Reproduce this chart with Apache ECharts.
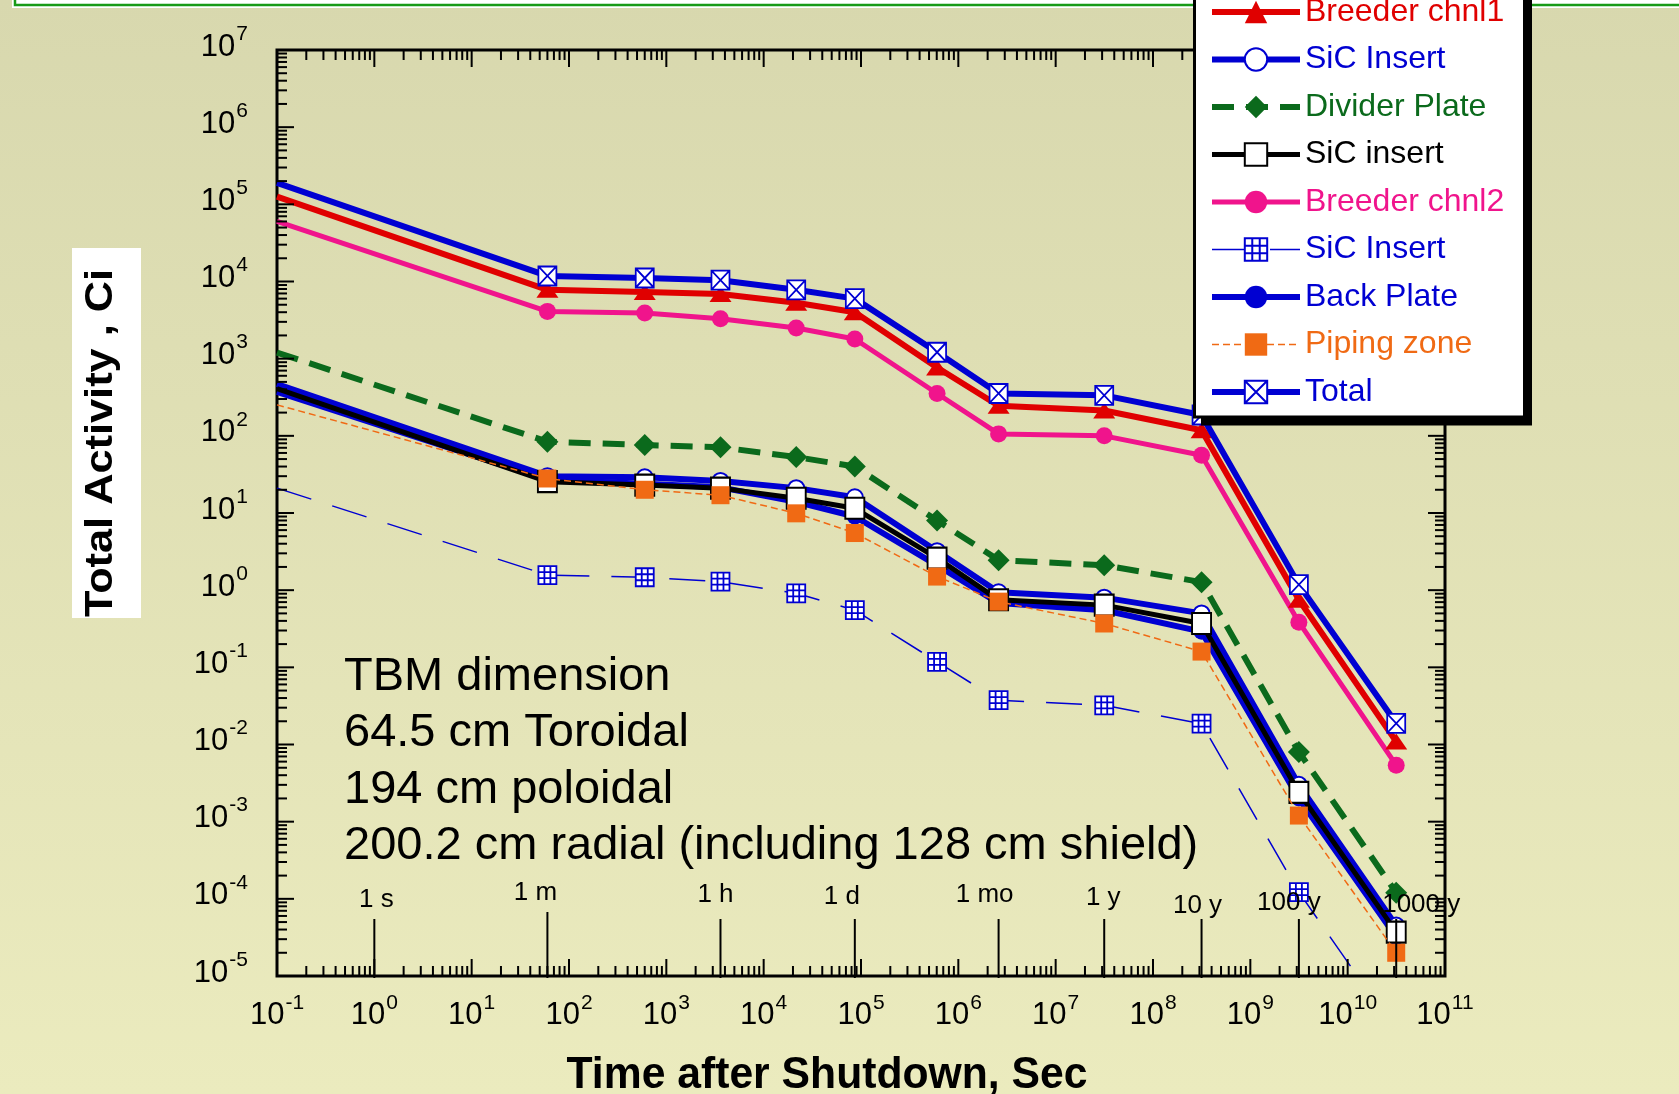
<!DOCTYPE html>
<html>
<head>
<meta charset="utf-8">
<script src="https://cdn.jsdelivr.net/npm/echarts@6/dist/echarts.min.js"></script>
<style>
html,body{margin:0;padding:0;background:#fff;}
#chart{width:1679px;height:1094px;}
</style>
</head>
<body>
<div id="chart"></div>
<script>
// ---------------- data ----------------
const timesSec      = [0.1, 60, 600, 3600, 21600, 86400, 604800, 2592000, 31536000, 315360000, 3153600000, 31536000000];
const breederChnl1  = [1.26e5, 7.8e3, 7.3e3, 6.9e3, 5.3e3, 4.0e3, 770, 245, 213, 118, 0.75, 0.0109];
const sicInsertA    = [470, 30, 29, 26, 21, 16, 3.2, 0.94, 0.80, 0.50, 0.0030, 4.5e-5];
const dividerPlate  = [1.2e3, 84, 76, 71, 53, 40, 8.0, 2.45, 2.1, 1.27, 0.0080, 1.2e-4];
const sicInsertB    = [408, 25.5, 23, 21, 15.5, 11.5, 2.6, 0.75, 0.64, 0.37, 0.0024, 3.7e-5];
const breederChnl2  = [6.0e4, 4.1e3, 3.9e3, 3.3e3, 2.5e3, 1.8e3, 354, 106, 100, 56, 0.385, 0.0054];
const sicInsertC    = [21, 1.57, 1.47, 1.29, 0.91, 0.55, 0.118, 0.0375, 0.0322, 0.0186, 1.22e-4, 1.9e-6];
const backPlate     = [371, 27, 24, 21.5, 14, 9.0, 2.1, 0.68, 0.55, 0.29, 0.0020, 3.2e-5];
const pipingZone    = [252, 28, 20, 17, 9.9, 5.5, 1.5, 0.71, 0.37, 0.16, 0.0012, 2.0e-5];
const totalActivity = [1.9e5, 1.18e4, 1.11e4, 1.04e4, 7.8e3, 6.0e3, 1.21e3, 354, 335, 186, 1.18, 0.0188];

const seriesNames   = ['Breeder chnl1', 'SiC Insert', 'Divider Plate', 'SiC insert', 'Breeder chnl2', 'SiC Insert ', 'Back Plate', 'Piping zone', 'Total'];

const xTickExponents = [-1, 0, 1, 2, 3, 4, 5, 6, 7, 8, 9, 10, 11];
const yTickExponents = [-5, -4, -3, -2, -1, 0, 1, 2, 3, 4, 5, 6, 7];

const timeMarkValues = [1, 60, 3600, 86400, 2592000, 31536000, 315360000, 3153600000, 31536000000];
const timeMarkLabels = ['1 s', '1 m', '1 h', '1 d', '1 mo', '1 y', '10 y', '100 y', '1000 y'];

const annotationLines = ['TBM dimension', '64.5 cm Toroidal', '194 cm poloidal', '200.2 cm radial (including 128 cm shield)'];
const xAxisTitle = 'Time after Shutdown, Sec';
const yAxisTitle = 'Total Activity , Ci';

// ---------------- styles / layout ----------------
const FONT = '"Liberation Sans", Arial, Helvetica, sans-serif';
const X_MIN = 0.1, X_MAX = 1e11, Y_MIN = 1e-5, Y_MAX = 1e7;
const BLUE = '#0000d2', RED = '#e00000', GREEN = '#0b6a1c', PINK = '#f0148c', ORANGE = '#f06a14', BLACK = '#000000';
const legendColors = [RED, BLUE, GREEN, BLACK, PINK, BLUE, BLUE, ORANGE, BLUE];
const markStyle = {
  len: [57, 64, 57, 57, 57, 57, 57, 57, 57],
  dx:  [2, -12, -5, -13, -14, -1, -4, -10, 25],
  dy:  [-76, -83, -81, -79, -81, -78, -70, -73, -71]
};
const BASE_FONT = '31px ' + FONT;
const SUP_FONT = '21px ' + FONT;

const measureCtx = document.createElement('canvas').getContext('2d');
function textW(t, font) { measureCtx.font = font; return measureCtx.measureText(t).width; }

const SYM_XBOX = 'path://M0,0L20,0L20,20L0,20Z M0,0L20,20 M20,0L0,20';
const SYM_GRID = 'path://M0,0L18,0L18,18L0,18Z M6,0L6,18 M12,0L12,18 M0,6L18,6 M0,12L18,12';

const seriesStyles = [
  { color: RED, width: 6, symbol: 'triangle', size: [22, 16] },
  { color: BLUE, width: 6, symbol: 'emptyCircle', size: 16 },
  { color: GREEN, width: 6, dash: [22, 12], symbol: 'diamond', size: 22 },
  { color: BLACK, width: 5, symbol: 'emptyRect', size: [19, 21], z: 3 },
  { color: PINK, width: 5, symbol: 'circle', size: 17 },
  { color: BLUE, width: 1.5, dash: [36, 22], symbol: SYM_GRID, size: 18,
    itemStyle: { color: '#ffffff', borderColor: BLUE, borderWidth: 1.8 } },
  { color: BLUE, width: 6, symbol: 'circle', size: 16 },
  { color: ORANGE, width: 1.5, dash: [7, 4], symbol: 'rect', size: 18, z: 4 },
  { color: BLUE, width: 6, symbol: SYM_XBOX, size: [18, 19], z: 3,
    itemStyle: { color: '#ffffff', borderColor: BLUE, borderWidth: 1.8 } }
];

function lineSeries(name, values, o) {
  return {
    name: name, type: 'line', z: o.z || 2,
    data: timesSec.map((t, i) => i === 0 ? { value: [t, values[i]], symbol: 'none' } : [t, values[i]]),
    symbol: o.symbol, symbolSize: o.size, showSymbol: true,
    lineStyle: { color: o.color, width: o.width, type: o.dash || 'solid' },
    itemStyle: o.itemStyle || { color: o.color },
    emphasis: { disabled: true }, silent: true, clip: true, animation: false
  };
}

// tick data (axis decoration)
const xTickData = [];
xTickExponents.forEach((e, i) => {
  xTickData.push([Math.pow(10, e), Y_MIN, 1, e]);
  if (i < xTickExponents.length - 1) for (let k = 2; k <= 9; k++) xTickData.push([k * Math.pow(10, e), Y_MIN, 0, e]);
});
const yTickData = [];
yTickExponents.forEach((e, i) => {
  yTickData.push([X_MIN, Math.pow(10, e), 1, e]);
  if (i < yTickExponents.length - 1) for (let k = 2; k <= 9; k++) yTickData.push([X_MIN, k * Math.pow(10, e), 0, e]);
});

function tickLine(x1, y1, x2, y2) {
  return { type: 'line', shape: { x1: x1, y1: y1, x2: x2, y2: y2 }, style: { stroke: '#000', lineWidth: 2 } };
}

function renderXTick(params, api) {
  const v = api.value(0), major = api.value(2) === 1;
  const pb = api.coord([v, Y_MIN]), pt = api.coord([v, Y_MAX]);
  const len = major ? 17 : 10;
  const ch = [tickLine(pb[0], pb[1], pb[0], pb[1] - len), tickLine(pt[0], pt[1], pt[0], pt[1] + len)];
  if (major) {
    const sup = String(api.value(3));
    const wb = textW('10', BASE_FONT), ws = textW(sup, SUP_FONT);
    const x0 = pb[0] - (wb + ws + 1) / 2;
    ch.push({ type: 'text', x: x0, y: pb[1] + 39, style: { text: '10', font: BASE_FONT, fill: '#000', align: 'left', verticalAlign: 'middle' } });
    ch.push({ type: 'text', x: x0 + wb + 1, y: pb[1] + 27, style: { text: sup, font: SUP_FONT, fill: '#000', align: 'left', verticalAlign: 'middle' } });
  }
  return { type: 'group', children: ch };
}

function renderYTick(params, api) {
  const v = api.value(1), major = api.value(2) === 1;
  const pl = api.coord([X_MIN, v]), pr = api.coord([X_MAX, v]);
  const len = major ? 17 : 10;
  const ch = [tickLine(pl[0], pl[1], pl[0] + len, pl[1]), tickLine(pr[0], pr[1], pr[0] - len, pr[1])];
  if (major) {
    const sup = String(api.value(3));
    const ws = textW(sup, SUP_FONT);
    const xr = pl[0] - 29;
    ch.push({ type: 'text', x: xr, y: pl[1] - 16, style: { text: sup, font: SUP_FONT, fill: '#000', align: 'right', verticalAlign: 'middle' } });
    ch.push({ type: 'text', x: xr - ws - 1, y: pl[1] - 3, style: { text: '10', font: BASE_FONT, fill: '#000', align: 'right', verticalAlign: 'middle' } });
  }
  return { type: 'group', children: ch };
}

function renderTimeMark(params, api) {
  const i = params.dataIndex;
  const p = api.coord([api.value(0), Y_MIN]);
  return { type: 'group', children: [
    { type: 'line', shape: { x1: p[0], y1: p[1] + 2, x2: p[0], y2: p[1] - markStyle.len[i] }, style: { stroke: '#000', lineWidth: 2 } },
    { type: 'text', x: p[0] + markStyle.dx[i], y: p[1] + markStyle.dy[i],
      style: { text: timeMarkLabels[i], font: '26px ' + FONT, fill: '#000', align: 'center', verticalAlign: 'middle' } }
  ] };
}

const chart = echarts.init(document.getElementById('chart'), null, { renderer: 'canvas' });

const seriesValues = [breederChnl1, sicInsertA, dividerPlate, sicInsertB, breederChnl2, sicInsertC, backPlate, pipingZone, totalActivity];

const option = {
  animation: false,
  backgroundColor: { type: 'linear', x: 0, y: 0, x2: 0, y2: 1,
    colorStops: [{ offset: 0, color: '#d8d8ae' }, { offset: 1, color: '#ebebbe' }] },
  textStyle: { fontFamily: FONT },
  grid: { left: 277, top: 50, width: 1168, height: 926, show: true, borderColor: '#000', borderWidth: 3, backgroundColor: 'transparent', containLabel: false },
  xAxis: { type: 'log', logBase: 10, min: X_MIN, max: X_MAX,
    axisLine: { show: false }, axisTick: { show: false }, axisLabel: { show: false }, splitLine: { show: false } },
  yAxis: { type: 'log', logBase: 10, min: Y_MIN, max: Y_MAX,
    axisLine: { show: false }, axisTick: { show: false }, axisLabel: { show: false }, splitLine: { show: false } },
  legend: {
    orient: 'vertical', left: 1193, top: -26, z: 11,
    padding: [20, 20, 9, 16],
    itemWidth: 88, itemHeight: 28, itemGap: 11.5,
    selectedMode: false,
    textStyle: { fontSize: 32, fontFamily: FONT, lineHeight: 36 },
    data: seriesNames.map((n, i) => ({
      name: n,
      lineStyle: { width: seriesStyles[i].width, type: seriesStyles[i].dash || 'solid', color: seriesStyles[i].color },
      textStyle: { color: legendColors[i], fontSize: 32, fontFamily: FONT }
    }))
  },
  graphic: [
    { type: 'rect', z: 0, shape: { x: 12, y: -20, width: 1700, height: 28 }, style: { fill: '#ffffff' } },
    { type: 'rect', z: 1, shape: { x: 15, y: -20, width: 1700, height: 25 }, style: { fill: '#ffffff', stroke: '#179a17', lineWidth: 2.5 } },
    { type: 'rect', z: 10, shape: { x: 1201, y: -13, width: 331, height: 438.5 }, style: { fill: '#000' } },
    { type: 'rect', z: 10, shape: { x: 1194.5, y: -20, width: 330, height: 437 }, style: { fill: '#ffffff', stroke: '#000', lineWidth: 3 } },
    { type: 'rect', z: 1, shape: { x: 72, y: 248, width: 69, height: 370 }, style: { fill: '#ffffff' } },
    { type: 'text', z: 2, x: 102, y: 443, rotation: Math.PI / 2, scaleX: 1.14,
      style: { text: yAxisTitle, font: 'bold 38px ' + FONT, fill: '#000', align: 'center', verticalAlign: 'middle' } },
    { type: 'text', z: 2, x: 827, y: 1076, scaleX: 0.97,
      style: { text: xAxisTitle, font: 'bold 44px ' + FONT, fill: '#000', align: 'center', verticalAlign: 'middle' } }
  ].concat(annotationLines.map((t, i) => ({
    type: 'text', z: 2, x: 344, y: 677.4 + 56.1 * i,
    style: { text: t, font: '47px ' + FONT, fill: '#000', align: 'left', verticalAlign: 'middle' }
  }))),
  series: seriesNames.map((n, i) => lineSeries(n, seriesValues[i], seriesStyles[i])).concat([
    { type: 'custom', name: 'xticks', silent: true, z: 5, renderItem: renderXTick, data: xTickData, encode: { x: 0, y: 1 }, animation: false },
    { type: 'custom', name: 'yticks', silent: true, z: 5, renderItem: renderYTick, data: yTickData, encode: { x: 0, y: 1 }, animation: false },
    { type: 'custom', name: 'timemarks', silent: true, z: 5, renderItem: renderTimeMark,
      data: timeMarkValues.map(v => [v, Y_MIN]), encode: { x: 0, y: 1 }, animation: false }
  ])
};
chart.setOption(option);
</script>
</body>
</html>
